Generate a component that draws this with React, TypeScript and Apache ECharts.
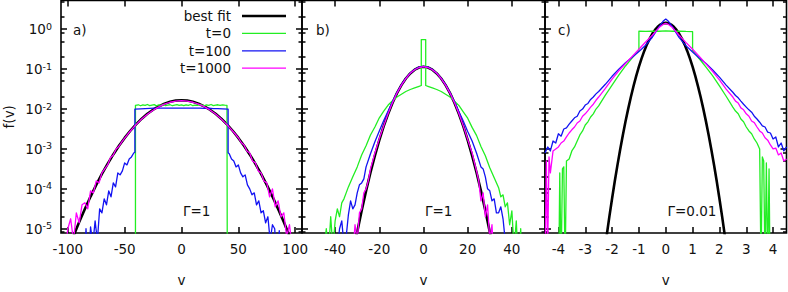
import React, { useEffect, useRef } from "react";
import * as echarts from "echarts";

type Pt = [number, number];

// ---------------- panel a) Γ=1 ----------------
const fitA: Pt[] = [
  [-105, 1.16e-6], [-100, 2.81e-6], [-95, 6.56e-6], [-90, 1.47e-5], [-85, 3.13e-5], [-80, 6.41e-5],
  [-75, 1.26e-4], [-70, 2.36e-4], [-65, 4.24e-4], [-60, 7.29e-4], [-55, 1.2e-3], [-50, 1.89e-3],
  [-45, 2.86e-3], [-40, 4.14e-3], [-35, 5.73e-3], [-30, 7.6e-3], [-25, 9.64e-3], [-20, 1.17e-2],
  [-15, 1.36e-2], [-10, 1.52e-2], [-5, 1.63e-2], [0, 1.66e-2], [5, 1.63e-2], [10, 1.52e-2],
  [15, 1.36e-2], [20, 1.17e-2], [25, 9.64e-3], [30, 7.6e-3], [35, 5.73e-3], [40, 4.14e-3],
  [45, 2.86e-3], [50, 1.89e-3], [55, 1.2e-3], [60, 7.29e-4], [65, 4.24e-4], [70, 2.36e-4],
  [75, 1.26e-4], [80, 6.41e-5], [85, 3.13e-5], [90, 1.47e-5], [95, 6.56e-6], [100, 2.81e-6], [105, 1.16e-6],
];
const t0A: Pt[] = [
  [-40.5, 1e-9], [-40.5, 0.0124],
  [-40, 0.0124], [-38, 0.0128], [-36, 0.0121], [-34, 0.0127], [-32, 0.0123], [-30, 0.013], [-28, 0.0122],
  [-26, 0.0126], [-24, 0.0129], [-22, 0.012], [-20, 0.0127], [-18, 0.0124], [-16, 0.0131], [-14, 0.0122],
  [-12, 0.0126], [-10, 0.0128], [-8, 0.0121], [-6, 0.0125], [-4, 0.0129], [-2, 0.0123], [0, 0.0127],
  [2, 0.0122], [4, 0.0128], [6, 0.0124], [8, 0.013], [10, 0.0121], [12, 0.0126], [14, 0.0123],
  [16, 0.0129], [18, 0.0125], [20, 0.012], [22, 0.0127], [24, 0.0124], [26, 0.013], [28, 0.0122],
  [30, 0.0126], [32, 0.0128], [34, 0.0123], [36, 0.0127], [38, 0.0125], [40, 0.0124],
  [40.5, 0.0124], [40.5, 1e-9],
];
const t100A: Pt[] = [
  [-88, 3e-7], [-86, 1e-6], [-84, 1e-5], [-82, 1e-6], [-80, 1.12e-5], [-78, 4e-6], [-76, 1.58e-5],
  [-74, 5e-6], [-72, 3.16e-5], [-70, 2.51e-5], [-68, 5.62e-5], [-66, 3.98e-5], [-64, 8.91e-5],
  [-62, 6.31e-5], [-60, 1.41e-4], [-58, 1.12e-4], [-56, 2.51e-4], [-54, 2.24e-4], [-52, 2.82e-4],
  [-50, 4.47e-4], [-48, 3.98e-4], [-46, 5.62e-4], [-44, 6.31e-4], [-42, 7.94e-4], [-41, 8.3e-4],
  [-41, 9.9e-3], [-36, 1.01e-2], [-32, 1.03e-2], [-28, 1.04e-2], [-24, 1.05e-2], [-20, 1.05e-2],
  [-16, 1.06e-2], [-12, 1.05e-2], [-8, 1.06e-2], [-4, 1.05e-2], [0, 1.06e-2], [4, 1.05e-2],
  [8, 1.06e-2], [12, 1.05e-2], [16, 1.05e-2], [20, 1.04e-2], [24, 1.05e-2], [28, 1.03e-2],
  [32, 1.02e-2], [36, 1.01e-2], [41, 9.9e-3], [41, 8e-4],
  [42, 7.59e-4], [44, 5.62e-4], [46, 5.01e-4], [48, 3.55e-4], [50, 3.98e-4], [52, 2.51e-4],
  [54, 2e-4], [56, 2.24e-4], [58, 1.26e-4], [60, 1e-4], [62, 7.08e-5], [64, 7.94e-5], [66, 3.98e-5],
  [68, 5.01e-5], [70, 2.51e-5], [72, 2.82e-5], [74, 1.41e-5], [76, 2e-5], [78, 5.01e-6], [80, 1.26e-5],
  [82, 1e-5], [84, 1e-6], [86, 8.91e-6], [88, 1e-6],
];
const t1000A: Pt[] = [
  [-105, 1e-6], [-102.5, 2.51e-6], [-100, 1e-5], [-97.5, 1.78e-5], [-95, 5.01e-6], [-92.5, 2.51e-5],
  [-90, 1.41e-5], [-87.5, 3.98e-5], [-85, 4.47e-5], [-82.5, 3.16e-5], [-80, 8.91e-5], [-77.5, 7.94e-5],
  [-75, 1.58e-4], [-72.5, 1.41e-4], [-70, 2.51e-4], [-67.5, 3.16e-4], [-65, 3.98e-4], [-62.5, 6.03e-4],
  [-60, 7.08e-4], [-57.5, 1e-3], [-55, 1.17e-3], [-52.5, 1.51e-3], [-50, 1.86e-3], [-45, 2.82e-3],
  [-40, 4.07e-3], [-35, 5.62e-3], [-30, 7.41e-3], [-25, 9.33e-3], [-20, 1.135e-2], [-15, 1.33e-2],
  [-10, 1.48e-2], [-5, 1.58e-2], [0, 1.62e-2], [5, 1.58e-2], [10, 1.48e-2], [15, 1.33e-2],
  [20, 1.15e-2], [25, 9.44e-3], [30, 7.5e-3], [35, 5.62e-3], [40, 4.07e-3], [45, 2.82e-3],
  [50, 1.91e-3], [52.5, 1.45e-3], [55, 1.26e-3], [57.5, 8.91e-4], [60, 7.94e-4], [62.5, 5.01e-4],
  [65, 4.47e-4], [67.5, 2.82e-4], [70, 2.51e-4], [72.5, 1.58e-4], [75, 1.41e-4], [77.5, 6.31e-5],
  [80, 1e-4], [82.5, 3.55e-5], [85, 5.01e-5], [87.5, 2e-5], [90, 2.51e-5], [92.5, 6.31e-6],
  [95, 1.26e-5], [97.5, 3.16e-6], [100, 1e-6],
];

// ---------------- panel b) Γ=1 ----------------
const fitB: Pt[] = [
  [-34, 5.5e-7], [-32, 2.24e-6], [-30, 8.32e-6], [-28, 2.84e-5], [-26, 8.91e-5], [-24, 2.57e-4],
  [-22, 6.82e-4], [-20, 1.66e-3], [-18, 3.72e-3], [-16, 7.62e-3], [-14, 1.44e-2], [-12, 2.5e-2],
  [-10, 3.98e-2], [-8, 5.83e-2], [-6, 7.83e-2], [-4, 9.68e-2], [-2, 0.11], [0, 0.115], [2, 0.11],
  [4, 9.68e-2], [6, 7.83e-2], [8, 5.83e-2], [10, 3.98e-2], [12, 2.5e-2], [14, 1.44e-2], [16, 7.62e-3],
  [18, 3.72e-3], [20, 1.66e-3], [22, 6.82e-4], [24, 2.57e-4], [26, 8.91e-5], [28, 2.84e-5],
  [30, 8.32e-6], [32, 2.24e-6], [34, 5.5e-7],
];
const t0B: Pt[] = [
  [-46, 1e-6], [-44, 1e-5], [-43, 2.51e-6], [-42, 2e-5], [-41, 3.16e-6], [-40, 1.58e-5], [-39, 3.16e-5],
  [-38, 2e-5], [-37, 4.47e-5], [-36, 5.62e-5], [-35, 7.94e-5], [-34, 1.12e-4], [-32, 2e-4],
  [-30, 3.55e-4], [-28, 7.08e-4], [-26, 1.2e-3], [-24, 2.24e-3], [-22, 3.55e-3], [-20, 6.03e-3],
  [-18, 8.91e-3], [-16, 1.26e-2], [-14, 1.62e-2], [-12, 2e-2], [-10, 2.34e-2], [-8, 2.75e-2],
  [-6, 3.09e-2], [-4, 3.39e-2], [-2, 3.72e-2], [-1, 3.89e-2], [-1, 0.55], [1, 0.55], [1, 3.89e-2],
  [2, 3.72e-2], [4, 3.39e-2], [6, 3.09e-2], [8, 2.75e-2], [10, 2.34e-2], [12, 2e-2], [14, 1.58e-2],
  [16, 1.23e-2], [18, 8.51e-3], [20, 5.89e-3], [22, 3.47e-3], [24, 2.19e-3], [26, 1.15e-3],
  [28, 6.76e-4], [30, 3.39e-4], [32, 1.91e-4], [34, 1.07e-4], [35, 6.31e-5], [36, 7.08e-5],
  [37, 3.55e-5], [38, 4.47e-5], [39, 1.26e-5], [40, 2.82e-5], [41, 3.16e-6], [42, 1.58e-5],
  [43, 1e-6], [44, 1e-5], [45, 1e-7],
];
const t100B: Pt[] = [
  [-40, 1e-6], [-38, 1e-5], [-37, 1.58e-5], [-36, 3.98e-6], [-35, 6.31e-6], [-34, 2.24e-5],
  [-33, 5.01e-5], [-32, 3.16e-5], [-31, 3.98e-5], [-30, 7.94e-5], [-29, 1.26e-4], [-28, 1.41e-4],
  [-27, 1.78e-4], [-26, 3.55e-4], [-24, 7.59e-4], [-22, 1.51e-3], [-20, 2.82e-3], [-18, 5.13e-3],
  [-16, 8.91e-3], [-14, 1.55e-2], [-12, 2.6e-2], [-10, 4.07e-2], [-8, 5.89e-2], [-6, 7.94e-2],
  [-4, 9.77e-2], [-2, 0.112], [0, 0.117], [2, 0.112], [4, 9.77e-2], [6, 7.94e-2], [8, 5.89e-2],
  [10, 4.07e-2], [12, 2.57e-2], [14, 1.55e-2], [16, 8.71e-3], [18, 5.01e-3], [20, 2.75e-3],
  [22, 1.58e-3], [24, 7.94e-4], [26, 3.55e-4], [27, 3.16e-4], [28, 2e-4], [29, 1e-4], [30, 8.91e-5],
  [31, 5.01e-5], [32, 5.62e-5], [33, 2.51e-5], [34, 2.51e-5], [35, 3.55e-5], [36, 1.78e-5],
  [37, 5.01e-6], [38, 3.98e-6], [40, 1e-6],
];
const t1000B: Pt[] = [
  [-34, 1e-6], [-32, 2.51e-6], [-31, 1.26e-5], [-30, 5.01e-6], [-29, 2.51e-5], [-28, 3.16e-5],
  [-27, 7.94e-5], [-26, 1e-4], [-25, 1.58e-4], [-24, 3.16e-4], [-22, 7.94e-4], [-20, 1.82e-3],
  [-18, 3.8e-3], [-16, 7.76e-3], [-14, 1.45e-2], [-12, 2.51e-2], [-10, 3.98e-2], [-8, 5.82e-2],
  [-6, 7.85e-2], [-4, 9.66e-2], [-2, 0.11], [0, 0.115], [2, 0.11], [4, 9.66e-2], [6, 7.85e-2],
  [8, 5.82e-2], [10, 3.98e-2], [12, 2.51e-2], [14, 1.45e-2], [16, 7.76e-3], [18, 3.8e-3],
  [20, 1.74e-3], [22, 7.94e-4], [24, 2.82e-4], [25, 1.58e-4], [26, 5.01e-5], [27, 7.94e-5],
  [28, 2e-5], [29, 3.98e-5], [30, 5.01e-6], [31, 1.26e-5], [32, 1e-6],
];

// ---------------- panel c) Γ=0.01 ----------------
const fitC: Pt[] = [
  [-2.4, 6.67e-7], [-2.3, 2.19e-6], [-2.2, 6.85e-6], [-2.1, 2.04e-5], [-2.0, 5.75e-5], [-1.9, 1.55e-4],
  [-1.8, 3.94e-4], [-1.7, 9.57e-4], [-1.6, 2.21e-3], [-1.5, 4.84e-3], [-1.4, 1.01e-2], [-1.3, 0.02],
  [-1.2, 0.0377], [-1.1, 0.0675], [-1.0, 0.115], [-0.9, 0.186], [-0.8, 0.286], [-0.7, 0.418],
  [-0.6, 0.581], [-0.5, 0.767], [-0.4, 0.964], [-0.3, 1.151], [-0.2, 1.306], [-0.1, 1.41], [0, 1.445],
  [0.1, 1.41], [0.2, 1.306], [0.3, 1.151], [0.4, 0.964], [0.5, 0.767], [0.6, 0.581], [0.7, 0.418],
  [0.8, 0.286], [0.9, 0.186], [1.0, 0.115], [1.1, 0.0675], [1.2, 0.0377], [1.3, 0.02], [1.4, 1.01e-2],
  [1.5, 4.84e-3], [1.6, 2.21e-3], [1.7, 9.57e-4], [1.8, 3.94e-4], [1.9, 1.55e-4], [2.0, 5.75e-5],
  [2.1, 2.04e-5], [2.2, 6.85e-6], [2.3, 2.19e-6], [2.4, 6.67e-7],
];
const t0C: Pt[] = [
  [-4.0, 1e-7], [-3.95, 2.51e-4], [-3.9, 1e-6], [-3.85, 3.16e-4], [-3.8, 3.55e-4], [-3.75, 1e-6],
  [-3.7, 5.01e-4], [-3.6, 5.62e-4], [-3.5, 8.91e-4], [-3.4, 1.12e-3], [-3.3, 1.58e-3], [-3.2, 2.24e-3],
  [-3.1, 2.82e-3], [-3.0, 3.98e-3], [-2.9, 4.79e-3], [-2.8, 6.31e-3], [-2.7, 7.59e-3], [-2.6, 1e-2],
  [-2.5, 1.2e-2], [-2.25, 2.24e-2], [-2.0, 3.98e-2], [-1.75, 7.08e-2], [-1.5, 0.12], [-1.25, 0.191],
  [-1.0, 0.295], [-1.0, 0.89], [-0.75, 0.88], [-0.5, 0.9], [-0.25, 0.89], [0, 0.91], [0.25, 0.89],
  [0.5, 0.9], [0.75, 0.88], [1.0, 0.87], [1.0, 0.29], [1.25, 0.182], [1.5, 0.112], [1.75, 6.76e-2],
  [2.0, 3.8e-2], [2.25, 2.09e-2], [2.5, 1.12e-2], [2.6, 8.91e-3], [2.7, 7.59e-3], [2.8, 5.62e-3],
  [2.9, 4.79e-3], [3.0, 3.55e-3], [3.1, 2.82e-3], [3.2, 2.4e-3], [3.3, 1.78e-3], [3.4, 1.41e-3],
  [3.5, 1e-3], [3.55, 1e-6], [3.6, 6.31e-4], [3.65, 5.01e-4], [3.7, 1e-6], [3.75, 4.47e-4],
  [3.8, 1e-6], [3.85, 3.16e-4], [3.9, 1e-7],
];
const t100C: Pt[] = [
  [-4.5, 7.94e-4], [-4.4, 1.12e-3], [-4.3, 8.91e-4], [-4.2, 1.58e-3], [-4.1, 1.41e-3], [-4.0, 2.4e-3],
  [-3.9, 2.09e-3], [-3.8, 3.16e-3], [-3.7, 3.39e-3], [-3.6, 4.17e-3], [-3.5, 5.01e-3], [-3.4, 6.03e-3],
  [-3.3, 6.61e-3], [-3.2, 8.91e-3], [-3.1, 1e-2], [-3.0, 1.26e-2], [-2.9, 1.38e-2], [-2.8, 1.74e-2],
  [-2.7, 2e-2], [-2.6, 2.4e-2], [-2.5, 2.75e-2], [-2.25, 4.17e-2], [-2.0, 6.61e-2], [-1.75, 0.1],
  [-1.5, 0.145], [-1.25, 0.2], [-1.0, 0.275], [-0.75, 0.398], [-0.5, 0.631], [-0.25, 1.15],
  [-0.1, 1.58], [0, 1.8], [0.1, 1.58], [0.25, 1.15], [0.5, 0.617], [0.75, 0.389], [1.0, 0.269],
  [1.25, 0.191], [1.5, 0.138], [1.75, 9.55e-2], [2.0, 6.31e-2], [2.25, 3.98e-2], [2.5, 2.63e-2],
  [2.6, 2.19e-2], [2.7, 1.91e-2], [2.8, 1.58e-2], [2.9, 1.32e-2], [3.0, 1.12e-2], [3.1, 9.55e-3],
  [3.2, 8.32e-3], [3.3, 6.61e-3], [3.4, 5.62e-3], [3.5, 4.68e-3], [3.6, 3.8e-3], [3.7, 3.55e-3],
  [3.8, 2.63e-3], [3.9, 2.51e-3], [4.0, 1.78e-3], [4.1, 2e-3], [4.2, 1.12e-3], [4.3, 1.41e-3],
  [4.4, 8.91e-4], [4.5, 1.12e-3],
];
const t1000C: Pt[] = [
  [-4.5, 1e-6], [-4.45, 5.01e-4], [-4.4, 3.16e-6], [-4.35, 6.31e-4], [-4.3, 2.51e-4], [-4.2, 8.91e-4],
  [-4.1, 1e-3], [-4.0, 1.12e-3], [-3.9, 1.41e-3], [-3.8, 1.58e-3], [-3.7, 2e-3], [-3.6, 2.51e-3],
  [-3.5, 3.02e-3], [-3.4, 3.55e-3], [-3.3, 4.47e-3], [-3.2, 5.01e-3], [-3.1, 6.61e-3], [-3.0, 7.59e-3],
  [-2.9, 9.12e-3], [-2.8, 1.12e-2], [-2.7, 1.32e-2], [-2.6, 1.66e-2], [-2.5, 2e-2], [-2.25, 3.31e-2],
  [-2.0, 5.62e-2], [-1.75, 9.12e-2], [-1.5, 0.138], [-1.25, 0.209], [-1.0, 0.316], [-0.75, 0.479],
  [-0.5, 0.708], [-0.25, 1.1], [-0.1, 1.32], [0, 1.4], [0.1, 1.32], [0.25, 1.1], [0.5, 0.708],
  [0.75, 0.468], [1.0, 0.316], [1.25, 0.209], [1.5, 0.135], [1.75, 8.71e-2], [2.0, 5.37e-2],
  [2.25, 3.16e-2], [2.5, 2e-2], [2.6, 1.58e-2], [2.7, 1.41e-2], [2.8, 1.07e-2], [2.9, 9.55e-3],
  [3.0, 7.59e-3], [3.1, 6.61e-3], [3.2, 5.01e-3], [3.3, 4.57e-3], [3.4, 3.55e-3], [3.5, 2.82e-3],
  [3.6, 2.51e-3], [3.7, 1.91e-3], [3.8, 1.66e-3], [3.9, 1.26e-3], [4.0, 1e-3], [4.1, 1.05e-3],
  [4.2, 7.08e-4], [4.3, 7.94e-4], [4.4, 5.01e-4], [4.5, 5.62e-4],
];

// ---------------- axes / labels ----------------
const xRanges: [number, number][] = [[-106, 106], [-55, 55], [-4.5, 4.5]];
const xTicksA = [-100, -50, 0, 50, 100];
const xTicksB = [-40, -20, 0, 20, 40];
const xTicksC = [-4, -3, -2, -1, 0, 1, 2, 3, 4];
const yRangeF: [number, number] = [7.83e-6, 5.25];
const yDecades = [-5, -4, -3, -2, -1, 0];
const yMinorFactors = [0.2, 0.5, 0.82];
const legendNames = ["best fit", "t=0", "t=100", "t=1000"];
const panelLetters = ["a)", "b)", "c)"];
const gammaLabels = ["\u0393=1", "\u0393=1", "\u0393=0.01"];
const xName = "v";
const yName = "f(v)";

const FONT = "DejaVu Sans";
const TXT = "#111";
const FS = 13.5;
const COLORS = ["#000000", "#22ee22", "#1212f2", "#ff00ff"];
const WIDTHS = [2.6, 1.3, 1.3, 1.3];

const GRID_LEFT = [61, 302, 545];
const GRID_W = [241, 243, 241.5];
const GRID_TOP = 0.5;
const GRID_H = 242.5;

export default function App() {
  const ref = useRef<HTMLDivElement>(null);
  useEffect(() => {
    document.body.style.margin = "0";
    if (!ref.current) return;
    const chart = echarts.init(ref.current, undefined, { renderer: "svg" });
    const yMin = Math.log10(yRangeF[0]);
    const yMax = Math.log10(yRangeF[1]);
    const minorVals: number[] = [];
    for (let n = -6; n <= 1; n++) {
      yMinorFactors.forEach((m) => {
        const val = n + Math.log10(m);
        if (val > yMin && val < yMax) minorVals.push(val);
      });
    }
    const xTicks = [xTicksA, xTicksB, xTicksC];
    const panels = [
      [fitA, t0A, t100A, t1000A],
      [fitB, t0B, t100B, t1000B],
      [fitC, t0C, t100C, t1000C],
    ];
    const tick = (len: number, vals: number[]) => ({
      show: true, inside: true, length: len, customValues: vals,
      lineStyle: { color: "#000", width: 1.5 },
    });
    const noLine = () => ({ show: false, onZero: false });

    const grid = GRID_LEFT.map((l, i) => ({
      left: l, top: GRID_TOP, width: GRID_W[i], height: GRID_H,
      show: true, borderColor: "#000", borderWidth: 1.6,
    }));

    const xAxis: any[] = [];
    const yAxis: any[] = [];
    for (let i = 0; i < 3; i++) {
      xAxis.push({
        gridIndex: i, type: "value", min: xRanges[i][0], max: xRanges[i][1], position: "bottom",
        axisLine: noLine(), splitLine: { show: false },
        axisTick: tick(6, xTicks[i]),
        axisLabel: {
          customValues: xTicks[i], formatter: (v: number) => String(v),
          fontSize: FS, fontFamily: FONT, color: TXT, margin: 9,
        },
        name: xName, nameLocation: "middle", nameGap: 40,
        nameTextStyle: { fontSize: FS, fontFamily: FONT, color: TXT },
      });
      xAxis.push({
        gridIndex: i, type: "value", min: xRanges[i][0], max: xRanges[i][1], position: "top",
        axisLine: noLine(), splitLine: { show: false },
        axisTick: tick(6, xTicks[i]),
        axisLabel: { show: false },
      });
      const yb = () => ({
        gridIndex: i, type: "value", min: yMin, max: yMax,
        axisLine: noLine(), splitLine: { show: false },
      });
      yAxis.push({
        ...yb(), position: "left",
        axisTick: tick(6, yDecades),
        axisLabel: {
          show: i === 0, customValues: yDecades, margin: 9,
          formatter: (v: number) => `{b|10}{s|${Math.round(v)}}`,
          rich: {
            b: { fontSize: FS, fontFamily: FONT, color: TXT, lineHeight: 16 },
            s: { fontSize: 9.5, fontFamily: FONT, color: TXT, lineHeight: 10, verticalAlign: "top" },
          },
        },
        name: i === 0 ? yName : "", nameLocation: "middle", nameGap: 45,
        nameTextStyle: { fontSize: FS, fontFamily: FONT, color: TXT },
      });
      yAxis.push({ ...yb(), position: "left", axisTick: tick(3.5, minorVals), axisLabel: { show: false } });
      yAxis.push({ ...yb(), position: "right", axisTick: tick(6, yDecades), axisLabel: { show: false } });
      yAxis.push({ ...yb(), position: "right", axisTick: tick(3.5, minorVals), axisLabel: { show: false } });
    }

    const series: any[] = [];
    panels.forEach((ps, i) => {
      ps.forEach((d, k) => {
        series.push({
          type: "line", name: legendNames[k], xAxisIndex: 2 * i, yAxisIndex: 4 * i,
          data: d.map(([v, f]) => [v, Math.log10(f)]),
          symbol: "none", showSymbol: false, clip: true, silent: true, z: 2 + k,
          lineStyle: { color: COLORS[k], width: WIDTHS[k], join: "round" },
          itemStyle: { color: COLORS[k] },
        });
      });
    });

    const txt = (text: string, x: number, y: number, align: string) => ({
      type: "text", x, y, silent: true,
      style: {
        text, fontSize: FS, fontFamily: FONT, fill: TXT,
        align, textAlign: align, verticalAlign: "middle", textVerticalAlign: "middle",
      },
    });
    const graphic: any[] = [];
    legendNames.forEach((n, k) => {
      const y = 16 + k * 17.4;
      graphic.push(txt(n, 231, y, "right"));
      graphic.push({
        type: "line", silent: true,
        shape: { x1: 242, y1: y, x2: 286, y2: y },
        style: { stroke: COLORS[k], lineWidth: WIDTHS[k] },
      });
    });
    const letterX = [73, 316, 558];
    panelLetters.forEach((s, i) => graphic.push(txt(s, letterX[i], 30, "left")));
    const gammaX = [183, 425, 667.5];
    gammaLabels.forEach((s, i) => graphic.push(txt(s, gammaX[i], 210.5, "left")));

    chart.setOption({
      animation: false,
      backgroundColor: "#fff",
      grid, xAxis, yAxis, series, graphic,
    });
    return () => chart.dispose();
  }, []);
  return <div ref={ref} style={{ width: 788, height: 292 }} />;
}
